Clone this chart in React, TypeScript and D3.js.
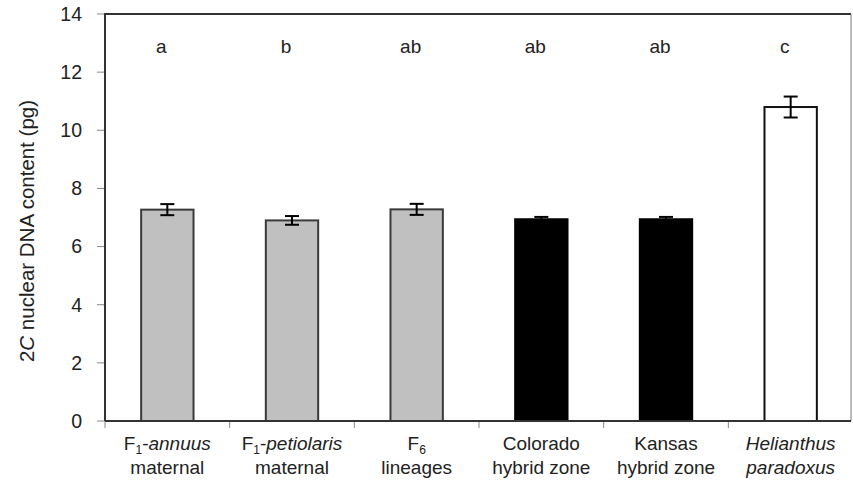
import React from "react";
import * as d3 from "d3";

const categories = ["F1-annuus", "F1-petiolaris", "F6", "Colorado", "Kansas", "Helianthus"];
const labelLine1 = [
  [{ t: "F", i: false }, { t: "1", i: false, sub: true }, { t: "-", i: false }, { t: "annuus", i: true }],
  [{ t: "F", i: false }, { t: "1", i: false, sub: true }, { t: "-", i: false }, { t: "petiolaris", i: true }],
  [{ t: "F", i: false }, { t: "6", i: false, sub: true }],
  [{ t: "Colorado", i: false }],
  [{ t: "Kansas", i: false }],
  [{ t: "Helianthus", i: true }],
];
const labelLine2 = [
  [{ t: "maternal", i: false }],
  [{ t: "maternal", i: false }],
  [{ t: "lineages", i: false }],
  [{ t: "hybrid zone", i: false }],
  [{ t: "hybrid zone", i: false }],
  [{ t: "paradoxus", i: true }],
];
const values = [7.27, 6.9, 7.28, 6.94, 6.94, 10.8];
const errors = [0.19, 0.15, 0.19, 0.08, 0.08, 0.36];
const groups = ["gray", "gray", "gray", "black", "black", "white"];
const letters = ["a", "b", "ab", "ab", "ab", "c"];
const yTicks = [0, 2, 4, 6, 8, 10, 12, 14];

const W = 853;
const H = 483;
const left = 105;
const right = 853;
const frameRight = 851;
const top = 14;
const bottom = 421;
const font = "Arial, 'Liberation Sans', sans-serif";

const fillColor: Record<string, string> = { gray: "#c0c0c0", black: "#000", white: "#fff" };
const strokeColor: Record<string, string> = { gray: "#3a3a3a", black: "#000", white: "#111" };

function Label({ parts, x, y }: { parts: any[]; x: number; y: number }) {
  return (
    <text x={x} y={y} textAnchor="middle" fontFamily={font} fontSize={19} fill="#222">
      {parts.map((p, k) => (
        <tspan
          key={k}
          fontStyle={p.i ? "italic" : "normal"}
          fontSize={p.sub ? 12 : 19}
          dy={p.sub ? 4 : k > 0 && parts[k - 1].sub ? -4 : 0}
        >
          {p.t}
        </tspan>
      ))}
    </text>
  );
}

export default function App() {
  const x = d3.scaleBand<string>().domain(categories).range([left, right]).padding(0);
  const y = d3.scaleLinear().domain([0, 14]).range([bottom, top]);
  const bw = x.bandwidth() * 0.42;
  const boundaries = categories.map((c) => x(c)!).concat([right]);

  return (
    <svg width={W} height={H} style={{ position: "absolute", left: 0, top: 0, background: "#fff" }}>
      <rect x={0} y={0} width={W} height={H} fill="#fff" />
      {/* frame */}
      <line x1={left} x2={frameRight} y1={top} y2={top} stroke="#333" strokeWidth={2} />
      <line x1={frameRight} x2={frameRight} y1={top} y2={bottom} stroke="#777" strokeWidth={1} />
      {/* y ticks */}
      {yTicks.map((t) => (
        <g key={t}>
          <line x1={left - 8} x2={left} y1={y(t)} y2={y(t)} stroke="#888" strokeWidth={1} />
          <text x={82} y={y(t)} dy="0.35em" textAnchor="end" fontFamily={font} fontSize={19.5} fill="#222">
            {t}
          </text>
        </g>
      ))}
      {/* x ticks */}
      {boundaries.slice(0, 6).map((b, i) => (
        <line key={i} x1={b} x2={b} y1={bottom} y2={bottom + 7} stroke="#888" strokeWidth={1} />
      ))}
      {/* bars */}
      {categories.map((c, i) => {
        const cx = x(c)! + x.bandwidth() / 2;
        return (
          <g key={c}>
            <rect
              x={cx - bw / 2}
              y={y(values[i])}
              width={bw}
              height={bottom - y(values[i])}
              fill={fillColor[groups[i]]}
              stroke={strokeColor[groups[i]]}
              strokeWidth={2}
            />
            <line x1={cx} x2={cx} y1={y(values[i] + errors[i])} y2={y(values[i] - errors[i])} stroke="#000" strokeWidth={2} />
            <line x1={cx - 7} x2={cx + 7} y1={y(values[i] + errors[i])} y2={y(values[i] + errors[i])} stroke="#000" strokeWidth={2} />
            <line x1={cx - 7} x2={cx + 7} y1={y(values[i] - errors[i])} y2={y(values[i] - errors[i])} stroke="#000" strokeWidth={2} />
            <text x={cx - 6} y={53} textAnchor="middle" fontFamily={font} fontSize={19} fill="#222">
              {letters[i]}
            </text>
            <Label parts={labelLine1[i]} x={cx} y={450} />
            <Label parts={labelLine2[i]} x={cx} y={474} />
          </g>
        );
      })}
      {/* axes */}
      <line x1={left} x2={left} y1={top - 1} y2={bottom} stroke="#333" strokeWidth={2} />
      <line x1={left} x2={frameRight} y1={bottom} y2={bottom} stroke="#333" strokeWidth={2} />
      {/* y title */}
      <text
        transform={`translate(34,231) rotate(-90)`}
        textAnchor="middle"
        fontFamily={font}
        fontSize={20.5}
        fill="#222"
      >
        2<tspan fontStyle="italic">C</tspan> nuclear DNA content (pg)
      </text>
    </svg>
  );
}
